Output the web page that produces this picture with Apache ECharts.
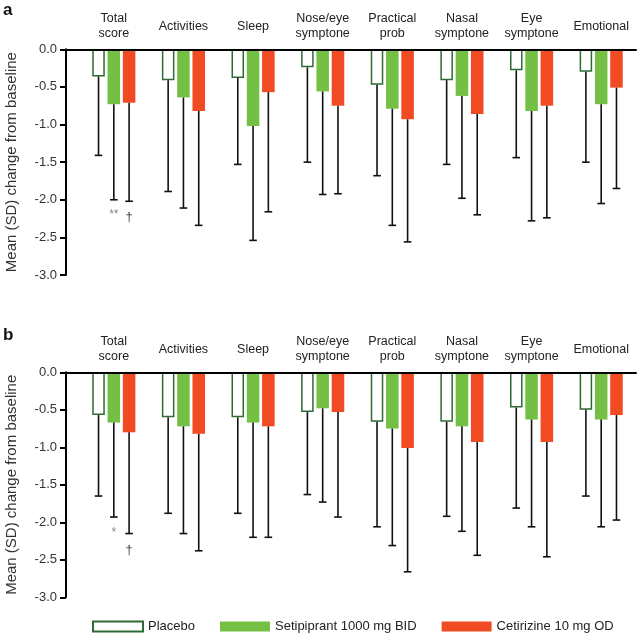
<!DOCTYPE html>
<html>
<head>
<meta charset="utf-8">
<script src="https://cdn.jsdelivr.net/npm/echarts@6/dist/echarts.min.js"></script>
<style>
  html, body { margin: 0; padding: 0; background: #fff; }
  #chart { width: 638px; height: 637px; }
</style>
</head>
<body>
<div id="chart"></div>
<script>
// ---------- data ----------
const categories = ['Total\nscore', 'Activities', 'Sleep', 'Nose/eye\nsymptone', 'Practical\nprob', 'Nasal\nsymptone', 'Eye\nsymptone', 'Emotional'];
const seriesNames = ['Placebo', 'Setipiprant 1000 mg BID', 'Cetirizine 10 mg OD'];
const yTicks = [-3.0, -2.5, -2.0, -1.5, -1.0, -0.5, 0.0];

// Panel a: mean change and SD
const placeboA = [-0.36, -0.41, -0.38, -0.24, -0.47, -0.41, -0.28, -0.30];
const setipA   = [-0.73, -0.64, -1.02, -0.56, -0.79, -0.62, -0.82, -0.73];
const cetirA   = [-0.71, -0.82, -0.57, -0.75, -0.93, -0.86, -0.75, -0.51];
const placeboSdA = [1.05, 1.48, 1.15, 1.26, 1.21, 1.12, 1.16, 1.20];
const setipSdA   = [1.27, 1.47, 1.52, 1.37, 1.55, 1.36, 1.46, 1.32];
const cetirSdA   = [1.31, 1.52, 1.59, 1.17, 1.63, 1.34, 1.49, 1.34];

// Panel b: mean change and SD
const placeboB = [-0.57, -0.60, -0.60, -0.53, -0.66, -0.66, -0.47, -0.50];
const setipB   = [-0.67, -0.72, -0.67, -0.48, -0.75, -0.72, -0.63, -0.63];
const cetirB   = [-0.80, -0.82, -0.72, -0.53, -1.01, -0.93, -0.93, -0.57];
const placeboSdB = [1.08, 1.28, 1.28, 1.10, 1.40, 1.26, 1.34, 1.15];
const setipSdB   = [1.26, 1.43, 1.53, 1.25, 1.56, 1.40, 1.43, 1.43];
const cetirSdB   = [1.35, 1.56, 1.48, 1.40, 1.65, 1.51, 1.53, 1.40];

// significance annotations: [category index, value, series index]
const annotPosA = [[0, -2.20, 1], [0, -2.23, 2]];
const annotTextA = ['**', '†'];
const annotPosB = [[0, -2.14, 1], [0, -2.38, 2]];
const annotTextB = ['*', '†'];

// ---------- style ----------
const FONT = "'Liberation Sans', Arial, Helvetica, sans-serif";
const BAR_W = 0.18, BAR_GAP = 0.22;
const C_PLACEBO_BORDER = '#2f6a35';
const C_GREEN = '#74c044';
const C_RED = '#f04b23';

function buildErr(means, sds) {
  const out = [];
  means.forEach((m, k) => m.forEach((v, i) => out.push([i, v, sds[k][i], k])));
  return out;
}

function errRender(params, api) {
  const cat = api.value(0), mean = api.value(1), sd = api.value(2), k = api.value(3);
  const band = api.size([1, 0])[0];
  const off = (k - 1) * band * BAR_W * (1 + BAR_GAP);
  const p0 = api.coord([cat, mean]);
  const p1 = api.coord([cat, mean - sd]);
  const x = p0[0] + off;
  const st = { stroke: '#111', lineWidth: 1.6 };
  return {
    type: 'group',
    children: [
      { type: 'line', shape: { x1: x, y1: p0[1], x2: x, y2: p1[1] }, style: st },
      { type: 'line', shape: { x1: x - 3.8, y1: p1[1], x2: x + 3.8, y2: p1[1] }, style: st }
    ]
  };
}

function annotRender(texts) {
  return function (params, api) {
    const cat = api.value(0), val = api.value(1), k = api.value(2);
    const band = api.size([1, 0])[0];
    const off = (k - 1) * band * BAR_W * (1 + BAR_GAP);
    const p = api.coord([cat, val]);
    const t = texts[params.dataIndex];
    return {
      type: 'text',
      x: p[0] + off, y: p[1],
      style: {
        text: t, align: 'center', verticalAlign: 'middle',
        font: (t === '†' ? '13px ' : '12px ') + FONT,
        fill: t === '†' ? '#444' : '#888'
      }
    };
  };
}

const panels = [
  { top: 49.3, height: 225.7, means: [placeboA, setipA, cetirA], sds: [placeboSdA, setipSdA, cetirSdA], ap: annotPosA, at: annotTextA },
  { top: 372.3, height: 225, means: [placeboB, setipB, cetirB], sds: [placeboSdB, setipSdB, cetirSdB], ap: annotPosB, at: annotTextB }
];

const grid = [], xAxis = [], yAxis = [], series = [];
panels.forEach((p, pi) => {
  const gAxis = pi * 2, gBars = pi * 2 + 1;
  grid.push({ left: 66, right: 2, top: p.top, height: p.height, outerBoundsMode: 'none', containLabel: false });
  grid.push({ left: 79, right: 2, top: p.top, height: p.height, outerBoundsMode: 'none', containLabel: false });
  // zero line axis
  xAxis.push({
    gridIndex: gAxis, type: 'value', min: 0, max: 1, position: 'top', z: 10,
    axisLine: { show: true, onZero: false, lineStyle: { color: '#000', width: 2 } },
    axisTick: { show: false }, axisLabel: { show: false }, splitLine: { show: false }
  });
  // category axis for bars
  xAxis.push({
    gridIndex: gBars, type: 'category', data: categories, position: 'top',
    axisLine: { show: false }, axisTick: { show: false }, splitLine: { show: false },
    axisLabel: {
      interval: 0, margin: 23, verticalAlign: 'middle', lineHeight: 15,
      fontSize: 12.5, fontFamily: FONT, color: '#222'
    }
  });
  yAxis.push({
    gridIndex: gAxis, type: 'value', min: yTicks[0], max: yTicks[yTicks.length - 1], interval: 0.5,
    axisLine: { show: true, onZero: false, lineStyle: { color: '#000', width: 2 } },
    axisTick: { show: true, length: 6, lineStyle: { color: '#000', width: 2 } },
    axisLabel: { margin: 9, fontSize: 13, fontFamily: FONT, color: '#333', formatter: v => v.toFixed(1) },
    splitLine: { show: false },
    name: 'Mean (SD) change from baseline', nameLocation: 'middle', nameGap: 47,
    nameTextStyle: { fontSize: 15, fontFamily: FONT, color: '#333' }
  });
  yAxis.push({
    gridIndex: gBars, type: 'value', min: yTicks[0], max: yTicks[yTicks.length - 1], show: false
  });
  const styles = [
    { color: '#fff', borderColor: C_PLACEBO_BORDER, borderWidth: 1.5 },
    { color: C_GREEN },
    { color: C_RED }
  ];
  p.means.forEach((m, k) => {
    series.push({
      name: seriesNames[k], type: 'bar', xAxisIndex: gBars, yAxisIndex: gBars,
      data: m, barWidth: (BAR_W * 100) + '%', barGap: (BAR_GAP * 100) + '%',
      itemStyle: styles[k], emphasis: { disabled: true }, z: 2
    });
  });
  series.push({
    type: 'custom', xAxisIndex: gBars, yAxisIndex: gBars, z: 3,
    data: buildErr(p.means, p.sds), encode: { x: 0, y: 1 },
    renderItem: errRender, silent: true
  });
  series.push({
    type: 'custom', xAxisIndex: gBars, yAxisIndex: gBars, z: 3,
    data: p.ap, encode: { x: 0, y: 1 },
    renderItem: annotRender(p.at), silent: true
  });
});

const chart = echarts.init(document.getElementById('chart'), null, { renderer: 'canvas' });
chart.setOption({
  animation: false,
  backgroundColor: '#fff',
  textStyle: { fontFamily: FONT },
  title: [
    { text: 'a', left: 3, top: 2, padding: 0, textStyle: { fontSize: 17, fontWeight: 'bold', color: '#111', fontFamily: FONT } },
    { text: 'b', left: 3, top: 327, padding: 0, textStyle: { fontSize: 17, fontWeight: 'bold', color: '#111', fontFamily: FONT } }
  ],
  legend: {
    data: seriesNames, left: 92, top: 620, padding: 0, itemGap: 25,
    itemWidth: 50, itemHeight: 10, icon: 'rect', selectedMode: false,
    textStyle: { fontSize: 13, fontFamily: FONT, color: '#222' }
  },
  grid, xAxis, yAxis, series
});
</script>
</body>
</html>
